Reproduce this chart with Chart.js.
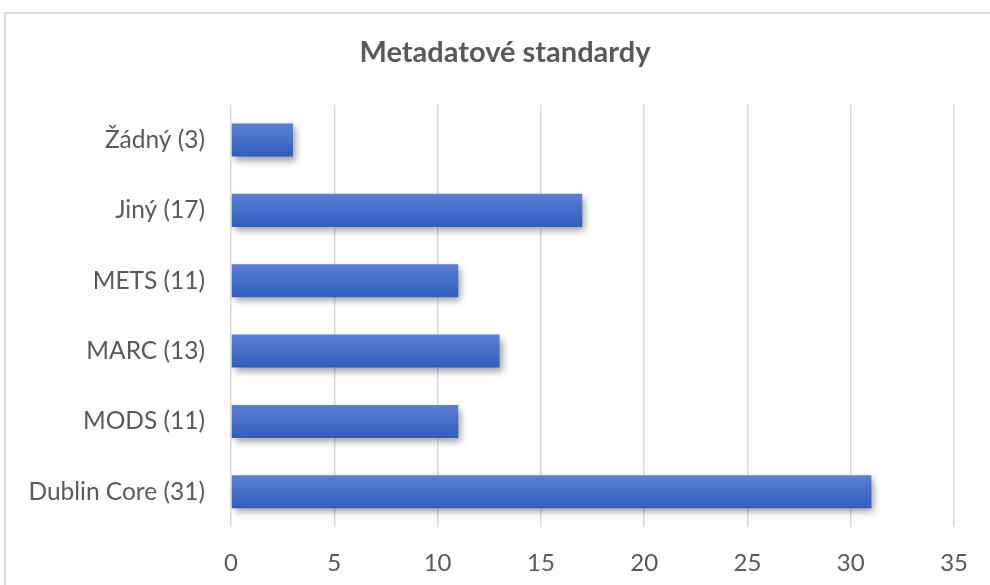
<!DOCTYPE html>
<html>
<head>
<meta charset="utf-8">
<script src="https://cdn.jsdelivr.net/npm/chart.js@4/dist/chart.umd.min.js"></script>
<style>
  html, body { margin: 0; padding: 0; background: #ffffff; }
  #wrap { position: relative; width: 990px; height: 585px; overflow: hidden; }
  #frame { position: absolute; left: 4px; top: 12px; width: 1000px; height: 600px;
           border-top: 2px solid #d9d9d9; border-left: 2px solid #d9d9d9; box-sizing: border-box; }
  canvas { position: absolute; left: 0; top: 0; }
</style>
</head>
<body>
<div id="wrap">
  <div id="frame"></div>
  <canvas id="chart" width="990" height="585"></canvas>
</div>
<script>
// Metadata standards used, with counts shown in the category labels
const categories = ['Žádný (3)', 'Jiný (17)', 'METS (11)', 'MARC (13)', 'MODS (11)', 'Dublin Core (31)'];
const counts = [3, 17, 11, 13, 11, 31];
const xTicks = [0, 5, 10, 15, 20, 25, 30, 35];

const BAR_PCT = 0.47;
const FONT = "'Lato', 'Open Sans', sans-serif";
const TEXT = '#595959';

// Vertical gradient per bar, computed from the category scale
function barGradient(context) {
  const chart = context.chart;
  const y = chart.scales.y;
  if (!y || !chart.chartArea) return '#4472c4';
  const c = y.getPixelForValue(context.dataIndex);
  const h = (y.height / categories.length) * BAR_PCT;
  const g = chart.ctx.createLinearGradient(0, c - h / 2, 0, c + h / 2);
  g.addColorStop(0, '#5b80d4');
  g.addColorStop(1, '#2e5ebf');
  return g;
}

// Soft drop shadow under the bars
const barShadow = {
  id: 'barShadow',
  beforeDatasetDraw(chart) {
    const ctx = chart.ctx;
    ctx.save();
    ctx.shadowColor = 'rgba(0,0,0,0.38)';
    ctx.shadowBlur = 7;
    ctx.shadowOffsetX = 3;
    ctx.shadowOffsetY = 4;
  },
  afterDatasetDraw(chart) {
    chart.ctx.restore();
  }
};

new Chart(document.getElementById('chart'), {
  type: 'bar',
  data: {
    labels: categories,
    datasets: [{
      data: counts,
      backgroundColor: barGradient,
      borderWidth: 0,
      barPercentage: BAR_PCT,
      categoryPercentage: 1.0
    }]
  },
  plugins: [barShadow],
  options: {
    indexAxis: 'y',
    responsive: false,
    animation: false,
    layout: { padding: { left: 20, right: 0, top: 0, bottom: 0 } },
    plugins: {
      legend: { display: false },
      tooltip: { enabled: false },
      title: {
        display: true,
        text: 'Metadatové standardy',
        color: TEXT,
        font: { family: FONT, size: 29, weight: 'bold' },
        padding: { top: 35, bottom: 35 }
      }
    },
    scales: {
      x: {
        min: 0,
        max: 35,
        afterBuildTicks(scale) { scale.ticks = xTicks.map(v => ({ value: v })); },
        afterFit(scale) { scale.height = 58; },
        grid: { color: '#d9d9d9', lineWidth: 1.5, drawTicks: false },
        border: { display: false },
        ticks: { color: TEXT, font: { family: FONT, size: 24 }, padding: 22 }
      },
      y: {
        afterFit(scale) { scale.width = 211; },
        grid: { display: false, drawTicks: false },
        border: { display: false },
        ticks: { color: TEXT, font: { family: FONT, size: 24.5 }, padding: 26 }
      },
      // empty margin on the right of the plot
      yRight: {
        type: 'linear',
        position: 'right',
        afterFit(scale) { scale.width = 34; },
        grid: { display: false, drawTicks: false },
        border: { display: false },
        ticks: { display: false }
      }
    }
  }
});
</script>
</body>
</html>
